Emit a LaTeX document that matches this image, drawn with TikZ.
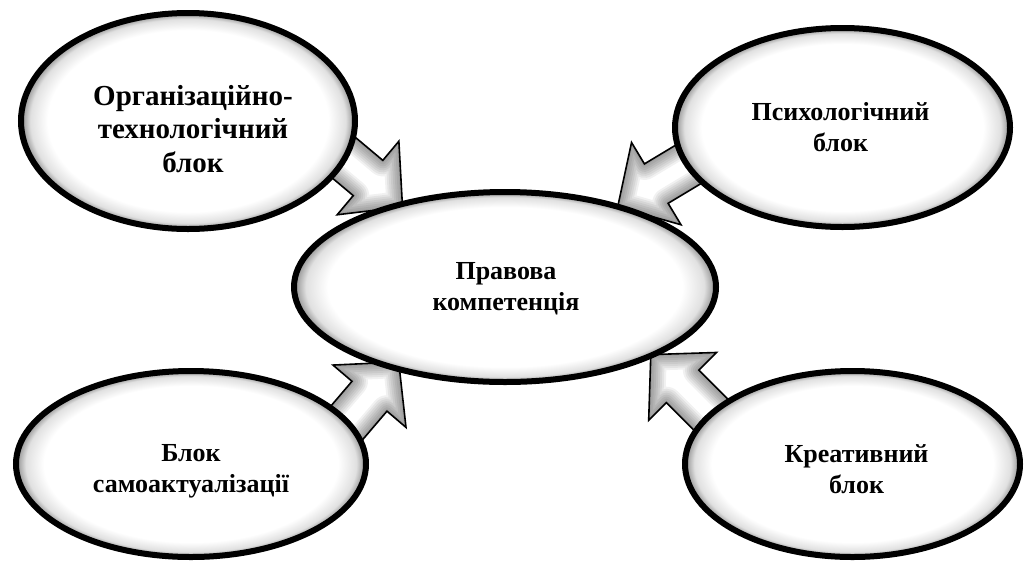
\documentclass[tikz,border=0pt]{standalone}
\usepackage{fontspec}
\setmainfont{Liberation Serif}
\usetikzlibrary{shapes.geometric,calc,backgrounds}
\pgfdeclareradialshading{glow}{\pgfpoint{0bp}{0bp}}{color(0bp)=(white); color(21bp)=(white); color(23.6bp)=(black!12); color(25bp)=(black!45); color(50bp)=(black!45)}
\newcommand{\blockarrow}[2]{%
  \coordinate (hb) at ($(#2)!45pt!(#1)$);
  \coordinate (p1) at ($(#1)!23pt!90:(#2)$);
  \coordinate (p2) at ($(hb)!23pt!-90:(#1)$);
  \coordinate (p3) at ($(hb)!48pt!-90:(#1)$);
  \coordinate (p5) at ($(hb)!48pt!90:(#1)$);
  \coordinate (p6) at ($(hb)!23pt!90:(#1)$);
  \coordinate (p7) at ($(#1)!23pt!-90:(#2)$);
  \fill[white] (p1) -- (p2) -- (p3) -- (#2) -- (p5) -- (p6) -- (p7) -- cycle;
  \begin{scope}
    \clip (p1) -- (p2) -- (p3) -- (#2) -- (p5) -- (p6) -- (p7) -- cycle;
    \foreach \w in {32,28,24,20,16,12,8,4}
      \draw[black, opacity=0.055, line width=\w pt, line join=round]
        (p1) -- (p2) -- (p3) -- (#2) -- (p5) -- (p6) -- (p7) -- cycle;
  \end{scope}
  \draw[barrow] (p1) -- (p2) -- (p3) -- (#2) -- (p5) -- (p6) -- (p7) -- cycle;}
\tikzset{
  ebox/.style={ellipse, draw=black, line width=6pt, shade, shading=glow, inner sep=0pt},
  etext/.style={align=center, inner sep=0pt, font=\bfseries\fontsize{26}{31}\selectfont},
  barrow/.style={draw=black, line width=1.6pt, line join=miter}
}
\begin{document}
\begin{tikzpicture}[x=1pt,y=-1pt]
\useasboundingbox (0,0) rectangle (1024,563);
\node[ebox, minimum width=334, minimum height=216] (tl) at (188,121) {};
\node[ebox, minimum width=335, minimum height=199] (tr) at (842.5,127.5) {};
\node[ebox, minimum width=422, minimum height=190] (c) at (505,287) {};
\node[ebox, minimum width=350, minimum height=186] (bl) at (191,464) {};
\node[ebox, minimum width=335, minimum height=186] (br) at (852.5,464) {};
\node[etext, font=\bfseries\fontsize{29}{33.5}\selectfont] (tlt) at ($(tl)+(5,8)$) {Організаційно-\\технологічний\\блок};
\node[etext] (trt) at ($(tr)+(-2,0)$) {Психологічний\\блок};
\node[etext] (ct) at ($(c)+(1,2)$) {Правова\\компетенція};
\node[etext] (blt) at ($(bl)+(0,7)$) {Блок\\самоактуалізації};
\node[etext] (brt) at ($(br)+(4,5)$) {Креативний\\блок};
\coordinate (s1) at (253,81.5);   \coordinate (e1) at (402.5,206.9);
\coordinate (s2) at (784.9,106.3); \coordinate (e2) at (617.7,206.8);
\coordinate (s3) at (272.2,510.2); \coordinate (e3) at (398.7,362);
\coordinate (s4) at (788.7,492.5); \coordinate (e4) at (650.8,354.6);
\begin{pgfonlayer}{background}
\blockarrow{s1}{e1}
\blockarrow{s2}{e2}
\blockarrow{s3}{e3}
\blockarrow{s4}{e4}
\end{pgfonlayer}
\end{tikzpicture}
\end{document}
